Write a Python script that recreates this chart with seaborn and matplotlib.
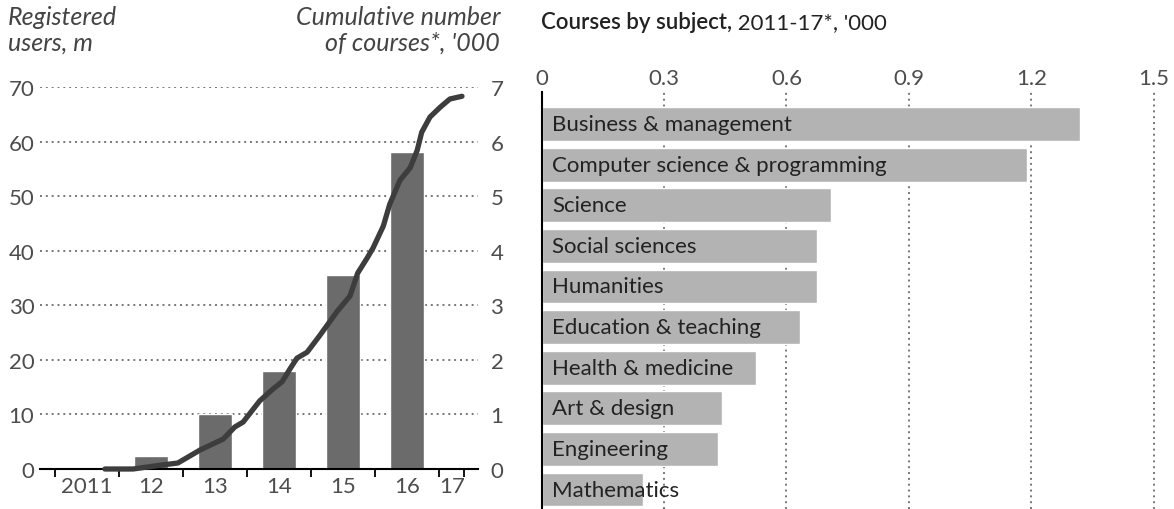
import matplotlib
matplotlib.use("Agg")
import matplotlib.pyplot as plt
import seaborn as sns

# left panel: registered users (bars, m) and cumulative courses (line, '000)
bar_years = [2011.5, 2012.5, 2013.5, 2014.5, 2015.5, 2016.5]
users_m = [0.3, 2.4, 10, 18, 35.6, 58]
year_labels = ["2011", "12", "13", "14", "15", "16", "17"]
year_label_pos = [2011.5, 2012.5, 2013.5, 2014.5, 2015.5, 2016.5, 2017.2]
year_ticks = [2011, 2012, 2013, 2014, 2015, 2016, 2017, 2017.39]

courses_t = [2011.78, 2012.22, 2012.59, 2012.92, 2013.11, 2013.27, 2013.63, 2013.81,
             2013.94, 2014.20, 2014.41, 2014.55, 2014.67, 2014.78, 2014.94, 2015.14,
             2015.41, 2015.61, 2015.73, 2015.88, 2015.97, 2016.13, 2016.23, 2016.39,
             2016.55, 2016.66, 2016.73, 2016.86, 2017.02, 2017.17, 2017.36]
courses_k = [0.0, 0.0, 0.06, 0.11, 0.24, 0.35, 0.55, 0.77,
             0.86, 1.25, 1.47, 1.6, 1.83, 2.03, 2.14, 2.45,
             2.89, 3.17, 3.59, 3.87, 4.05, 4.45, 4.85, 5.29,
             5.52, 5.84, 6.17, 6.45, 6.63, 6.78, 6.83]

# right panel: courses by subject, '000
subjects = ["Business & management", "Computer science & programming", "Science",
            "Social sciences", "Humanities", "Education & teaching",
            "Health & medicine", "Art & design", "Engineering", "Mathematics"]
subject_k = [1.32, 1.19, 0.71, 0.675, 0.675, 0.634, 0.526, 0.442, 0.433, 0.248]
subject_ticks = [0, 0.3, 0.6, 0.9, 1.2, 1.5]
subject_tick_labels = ["0", "0.3", "0.6", "0.9", "1.2", "1.5"]

sns.set_theme(style="white")
plt.rcParams['font.family'] = ['Lato', 'DejaVu Sans']

W, H = 1174, 510
fig = plt.figure(figsize=(W / 100, H / 100), dpi=100)
dots = (0, (1, 2))
tick_col = '#4d4d4d'
fs = 16

# ---- left
ax1 = fig.add_axes([40 / W, 40 / H, 438 / W, 382 / H])
sns.barplot(x=bar_years, y=users_m, native_scale=True, width=0.52, color='#6b6b6b',
            saturation=1, errorbar=None, ax=ax1)
ax1.set_ylim(0, 70)
ax1.set_yticks(range(0, 71, 10))
ax1.grid(axis='y', linestyle=dots, color='#777777', linewidth=1.4)
ax1.grid(axis='x', visible=False)
ax1.set_axisbelow(True)
for s in ['left', 'top', 'right']:
    ax1.spines[s].set_visible(False)
ax1.spines['bottom'].set_color('black')
ax1.spines['bottom'].set_linewidth(1.5)
ax1.set_xticks(year_ticks)
ax1.set_xticklabels([''] * len(year_ticks))
ax1.set_xticks(year_label_pos, minor=True)
ax1.set_xticklabels(year_labels, minor=True)
ax1.tick_params(axis='x', which='major', length=6, width=1.3, color='black', direction='out', bottom=True)
ax1.tick_params(axis='x', which='minor', length=0, labelsize=fs, labelcolor=tick_col, pad=5, bottom=True)
ax1.tick_params(axis='y', length=0, labelsize=fs, labelcolor=tick_col, pad=4)
ax1.set_xlabel('')
ax1.set_ylabel('')

ax2 = ax1.twinx()
sns.lineplot(x=courses_t, y=courses_k, ax=ax2, color='#3d3d3d', linewidth=3.8, clip_on=False)
ax2.set_ylim(0, 7)
ax2.set_yticks(range(0, 8))
for s in ax2.spines.values():
    s.set_visible(False)
ax2.tick_params(axis='y', length=0, labelsize=fs, labelcolor=tick_col, pad=9)
ax2.set_ylabel('')
ax1.set_xlim(2010.766, 2017.61)

fig.text(8 / W, 1 - 6 / H, "Registered\nusers, m", ha='left', va='top', style='italic',
         fontsize=18, color='#444444', linespacing=1.12)
fig.text(500 / W, 1 - 6 / H, "Cumulative number\nof courses*, '000", ha='right', va='top',
         style='italic', fontsize=18, color='#444444', linespacing=1.12)

# ---- right
ax3 = fig.add_axes([541.5 / W, 0, (W - 541.5) / W, 417 / H])
sns.barplot(x=subject_k, y=subjects, orient='h', color='#b3b3b3', saturation=1,
            width=0.83, errorbar=None, ax=ax3)
ax3.set_xlim(0, 1.549)
ax3.set_ylim(9.48, -0.79)
ax3.xaxis.tick_top()
ax3.set_xticks(subject_ticks)
ax3.set_xticklabels(subject_tick_labels)
ax3.tick_params(axis='x', length=0, labelsize=fs, labelcolor=tick_col, pad=3)
ax3.set_yticks([])
ax3.grid(axis='x', linestyle=dots, color='#777777', linewidth=1.4)
ax3.grid(axis='y', visible=False)
ax3.set_axisbelow(True)
for s in ['top', 'right', 'bottom']:
    ax3.spines[s].set_visible(False)
ax3.spines['left'].set_color('black')
ax3.spines['left'].set_linewidth(1.5)
ax3.set_xlabel('')
ax3.set_ylabel('')
for i, name in enumerate(subjects):
    ax3.text(0.026, i, name, ha='left', va='center', fontsize=fs, color='#222222')

t1 = fig.text(541 / W, 1 - 33 / H, "Courses by subject,", ha='left', va='bottom',
              fontsize=fs, weight='semibold', color='#222222')
ax3.annotate(" 2011-17*, '000", xy=(1, 0), xycoords=t1, ha='left', va='bottom',
             fontsize=fs, color='#222222', annotation_clip=False)

fig.savefig('out.png', dpi=100)
